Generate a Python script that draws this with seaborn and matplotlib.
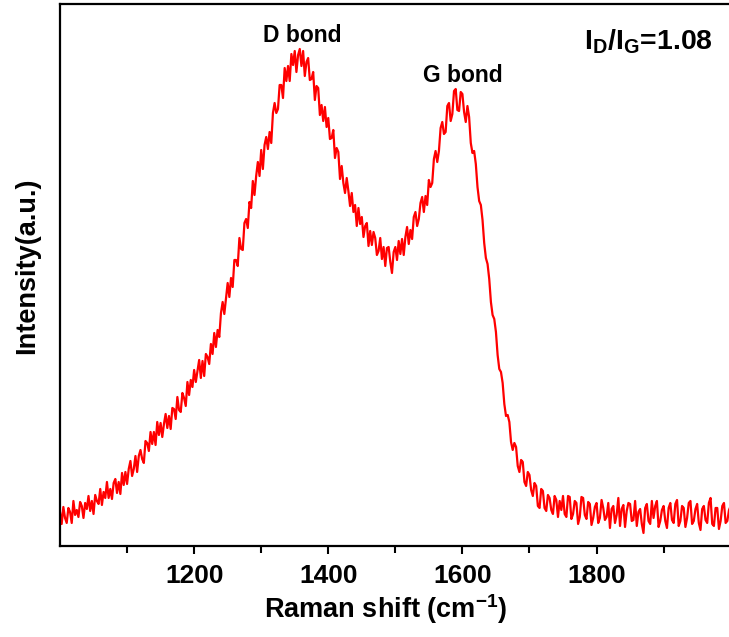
import numpy as np
import pandas as pd
import matplotlib.pyplot as plt
import seaborn as sns

# Raman spectrum (2.5 cm-1 steps, arbitrary intensity units)
shift = np.arange(1000, 2000.1, 2.5)
intensity = [
    34, 22, 39, 28, 23, 38, 34, 23, 45, 31, 36, 29, 44, 40, 28, 43, 37, 50, 35, 45,
    32, 51, 45, 42, 57, 41, 54, 48, 64, 48, 57, 47, 63, 67, 53, 64, 52, 73, 61, 74,
    62, 77, 85, 70, 77, 90, 74, 90, 96, 87, 83, 105, 103, 95, 114, 102, 114, 101, 124, 111,
    123, 109, 122, 132, 118, 130, 117, 138, 137, 127, 149, 136, 134, 153, 148, 140, 164, 151, 166, 159,
    176, 164, 175, 186, 168, 185, 170, 192, 189, 182, 202, 192, 213, 199, 216, 209, 233, 244, 232, 248,
    263, 249, 268, 259, 286, 286, 280, 308, 297, 296, 323, 327, 318, 344, 338, 365, 351, 370, 384, 370,
    396, 377, 401, 409, 397, 414, 403, 433, 443, 433, 437, 461, 461, 448, 478, 465, 480, 465, 492, 481,
    495, 474, 491, 497, 480, 495, 470, 484, 488, 466, 467, 474, 446, 460, 458, 431, 441, 425, 439, 419,
    428, 407, 408, 416, 388, 398, 394, 367, 380, 363, 353, 368, 355, 340, 353, 334, 341, 320, 338, 322,
    329, 309, 320, 323, 300, 315, 301, 314, 308, 291, 295, 308, 287, 299, 280, 298, 299, 284, 273, 294,
    299, 286, 305, 292, 307, 291, 309, 319, 302, 316, 307, 329, 334, 320, 327, 343, 349, 334, 350, 341,
    366, 359, 363, 387, 395, 384, 395, 418, 424, 412, 414, 440, 443, 425, 432, 455, 457, 436, 435, 454,
    452, 434, 424, 440, 429, 403, 393, 395, 382, 359, 345, 341, 326, 303, 288, 282, 267, 244, 231, 227,
    214, 191, 177, 174, 163, 142, 130, 131, 124, 104, 96, 103, 99, 80, 74, 86, 84, 64, 60, 74,
    71, 56, 50, 63, 60, 40, 38, 57, 55, 38, 35, 51, 48, 36, 32, 50, 46, 29, 45, 36,
    50, 32, 29, 50, 49, 27, 32, 45, 43, 22, 29, 49, 48, 31, 27, 44, 42, 21, 28, 39,
    43, 23, 28, 46, 38, 26, 29, 43, 18, 37, 40, 23, 31, 48, 20, 37, 41, 19, 35, 43,
    42, 25, 26, 45, 20, 34, 37, 22, 13, 38, 42, 25, 22, 45, 28, 40, 45, 19, 25, 36,
    40, 25, 18, 38, 43, 26, 23, 42, 46, 20, 25, 40, 38, 19, 28, 43, 45, 22, 25, 37,
    42, 23, 16, 37, 40, 26, 23, 43, 48, 22, 20, 38, 38, 17, 25, 40, 43, 23, 25, 36,
    40,
]
df = pd.DataFrame({"shift": shift, "intensity": intensity})

peak_labels = ["D bond", "G bond"]
peak_pos = [1361, 1601]
peak_y = [511, 471]
ratio_text = r"$\mathbf{I_D/I_G}$=1.08"

sns.set_style("ticks")
plt.rcParams["font.family"] = ["Liberation Sans", "DejaVu Sans"]
plt.rcParams["font.weight"] = "bold"
plt.rcParams["text.color"] = "black"
plt.rcParams["axes.labelcolor"] = "black"
plt.rcParams["xtick.color"] = "black"
plt.rcParams["mathtext.fontset"] = "custom"
plt.rcParams["mathtext.rm"] = "Liberation Sans:bold"
plt.rcParams["mathtext.bf"] = "Liberation Sans:bold"

fig = plt.figure(figsize=(7.29, 6.37), dpi=100)
ax = fig.add_axes([0.0823, 0.1429, 0.92, 0.8508])

sns.lineplot(data=df, x="shift", y="intensity", color="#ff0000", linewidth=1.6, ax=ax)

for lab, xp, yp in zip(peak_labels, peak_pos, peak_y):
    ax.text(xp, yp, lab, ha="center", va="center", fontsize=16.5, fontweight="bold", color="black")
ax.text(1782, 504, ratio_text, ha="left", va="center", fontsize=20.5, fontweight="bold", color="black")

ax.set_xlim(1000, 2000)
ax.set_ylim(0, 542)
ax.set_xticks([1200, 1400, 1600, 1800])
ax.set_xticks([1100, 1300, 1500, 1700, 1900], minor=True)
ax.set_yticks([])
ax.tick_params(axis="x", which="both", direction="out", width=1.5, labelsize=19, pad=7)
ax.tick_params(axis="x", which="major", length=6)
ax.tick_params(axis="x", which="minor", length=5)
for lab in ax.get_xticklabels():
    lab.set_fontweight("bold")

for side in ["left", "bottom", "top"]:
    ax.spines[side].set_linewidth(1.6)
    ax.spines[side].set_color("black")
ax.spines["right"].set_visible(False)

ax.set_xlabel("Raman shift (cm$^{-1}$)", fontsize=19.5, fontweight="bold", labelpad=2)
ax.set_ylabel("Intensity(a.u.)", fontsize=19.5, fontweight="bold", labelpad=13)
ax.xaxis.set_label_coords(0.485, -0.085)
ax.yaxis.set_label_coords(-0.03, 0.517)

fig.savefig("out.png", dpi=100)
